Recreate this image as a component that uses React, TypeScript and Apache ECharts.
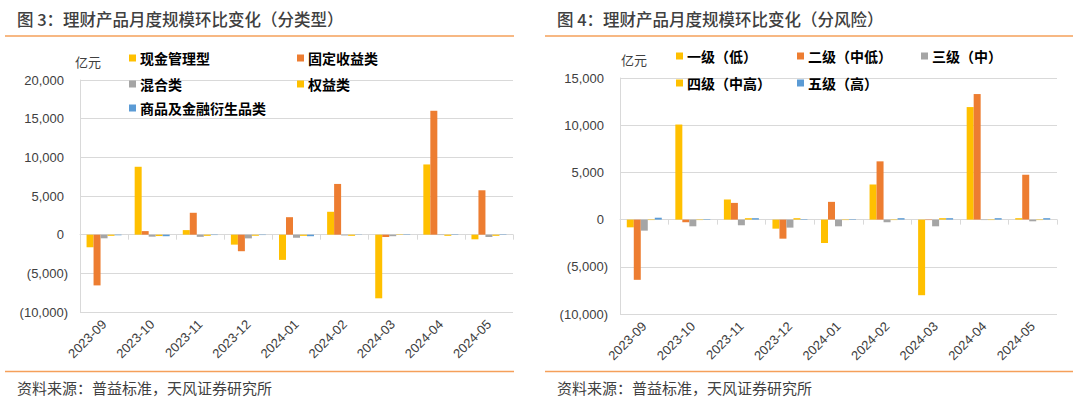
import React, { useEffect, useRef } from 'react';
import * as echarts from 'echarts';

const months = ['2023-09', '2023-10', '2023-11', '2023-12', '2024-01', '2024-02', '2024-03', '2024-04', '2024-05'];

// Left chart (by type), 亿元
const typeNames = ['现金管理型', '固定收益类', '混合类', '权益类', '商品及金融衍生品类'];
const cashMgmt = [-1630, 8780, 590, -1290, -3260, 2960, -8230, 9080, -600];
const fixedIncome = [-6560, 460, 2830, -2140, 2260, 6560, -300, 16020, 5740];
const mixed = [-470, -260, -280, -480, -400, -100, -200, -50, -300];
const equity = [-150, -180, -150, -150, -150, -150, 50, -150, -150];
const commodity = [-80, -200, -50, -50, -200, 30, 50, 50, 50];

// Right chart (by risk), 亿元
const riskNames = ['一级（低）', '二级（中低）', '三级（中）', '四级（中高）', '五级（高）'];
const risk1 = [-820, 10070, 2130, -960, -2480, 3720, -8010, 11920, 150];
const risk2 = [-6380, -280, 1770, -2020, 1880, 6170, -50, 13300, 4750];
const risk3 = [-1170, -710, -600, -850, -710, -280, -710, -50, -180];
const risk4 = [-50, -50, 150, 150, -50, -50, 150, -50, -50];
const risk5 = [200, 50, 150, 50, 50, 150, 150, 150, 150];

const leftTicks = { min: -10000, max: 20000, interval: 5000 };
const rightTicks = { min: -10000, max: 15000, interval: 5000 };

const colors = ['#FFC000', '#ED7D31', '#A5A5A5', '#FFC000', '#5B9BD5'];

const NUM_FONT = "'Liberation Sans', Arial, 'Noto Sans CJK SC', sans-serif";
const CJK_FONT = "'Noto Sans CJK SC', 'Liberation Sans', sans-serif";
const LABEL_COLOR = '#404040';
const GRID_COLOR = '#D9D9D9';
const ORANGE = '#F5A05A';

const fmt = (v: number) => {
  const a = Math.abs(v).toLocaleString('en-US');
  return v < 0 ? `(${a})` : `{p|${a}}`;
};

function App() {
  const ref = useRef<HTMLDivElement>(null);

  useEffect(() => {
    if (!ref.current) return;
    const chart = echarts.init(ref.current, undefined, { renderer: 'svg' });

    const grids = [
      { left: 80, top: 80, width: 433, height: 232 },
      { left: 620, top: 78, width: 437, height: 236 },
    ];

    const yAxis = [leftTicks, rightTicks].map((t, i) => ({
      type: 'value',
      gridIndex: i,
      min: t.min,
      max: t.max,
      interval: t.interval,
      axisLine: { show: true, lineStyle: { color: GRID_COLOR, width: 1 } },
      axisTick: { show: false },
      splitLine: { show: true, lineStyle: { color: GRID_COLOR, width: 1 } },
      axisLabel: {
        formatter: fmt,
        fontSize: 13,
        fontFamily: NUM_FONT,
        color: LABEL_COLOR,
        margin: 12,
        rich: { p: { padding: [0, 4, 0, 0], fontSize: 13, fontFamily: NUM_FONT, color: LABEL_COLOR } },
      },
    }));

    const xAxis: any[] = [];
    [0, 1].forEach((g) => {
      xAxis.push({
        type: 'category',
        gridIndex: g,
        data: months,
        position: 'bottom',
        axisLine: { show: false, onZero: false },
        axisTick: { show: false },
        splitLine: { show: false },
        axisLabel: {
          interval: 0,
          rotate: 45,
          fontSize: 13,
          fontFamily: NUM_FONT,
          color: LABEL_COLOR,
          margin: 10,
        },
      });
      xAxis.push({
        type: 'category',
        gridIndex: g,
        data: months,
        position: 'bottom',
        axisLine: { show: true, onZero: true, lineStyle: { color: GRID_COLOR, width: 1 } },
        axisTick: { show: true, interval: 0, length: 5, lineStyle: { color: GRID_COLOR } },
        axisLabel: { show: false },
        splitLine: { show: false },
      });
    });

    const leftData = [cashMgmt, fixedIncome, mixed, equity, commodity];
    const rightData = [risk1, risk2, risk3, risk4, risk5];

    const mk = (names: string[], data: number[][], g: number) =>
      names.map((n, i) => ({
        name: n,
        type: 'bar',
        xAxisIndex: g * 2,
        yAxisIndex: g,
        data: data[i],
        barWidth: 7,
        barGap: '0%',
        itemStyle: { color: colors[i] },
        z: 3,
      }));

    const series = [...mk(typeNames, leftData, 0), ...mk(riskNames, rightData, 1)];

    const legendItems = [
      { name: typeNames[0], x: 129, y: 61 },
      { name: typeNames[1], x: 297, y: 61 },
      { name: typeNames[2], x: 129, y: 87 },
      { name: typeNames[3], x: 297, y: 87 },
      { name: typeNames[4], x: 129, y: 111 },
      { name: riskNames[0], x: 676, y: 59 },
      { name: riskNames[1], x: 797, y: 59 },
      { name: riskNames[2], x: 921, y: 59 },
      { name: riskNames[3], x: 676, y: 86 },
      { name: riskNames[4], x: 797, y: 86 },
    ];

    const legend = legendItems.map((it) => ({
      data: [it.name],
      left: it.x,
      top: it.y - 10,
      padding: 0,
      itemWidth: 7,
      itemHeight: 7,
      icon: 'rect',
      selectedMode: false,
      textStyle: { fontSize: 14, fontWeight: 'bold', color: '#000', fontFamily: CJK_FONT, padding: [0, 0, 0, -1] },
    }));

    const text = (t: string, x: number, y: number, size: number, color: string, weight = 'normal') => ({
      type: 'text',
      x,
      y,
      silent: true,
      style: {
        text: t,
        fontSize: size,
        fontFamily: CJK_FONT,
        fontWeight: weight,
        fill: color,
        verticalAlign: 'middle',
        textVerticalAlign: 'middle',
      },
    });
    const hline = (x1: number, x2: number, y: number) => ({
      type: 'line',
      silent: true,
      shape: { x1, y1: y, x2, y2: y },
      style: { stroke: ORANGE, lineWidth: 1.5 },
    });

    const graphic = [
      text('图 3：理财产品月度规模环比变化（分类型）', 17, 19, 16.5, '#404040', '500'),
      text('图 4：理财产品月度规模环比变化（分风险）', 557, 19, 16.5, '#404040', '500'),
      hline(5, 514, 36),
      hline(545, 1073, 36),
      text('亿元', 75, 61, 13, LABEL_COLOR),
      text('亿元', 621, 59, 13, LABEL_COLOR),
      hline(5, 514, 371.5),
      hline(545, 1073, 371.5),
      text('资料来源：普益标准，天风证券研究所', 17, 387, 15, '#404040'),
      text('资料来源：普益标准，天风证券研究所', 557, 387, 15, '#404040'),
    ];

    chart.setOption({
      animation: false,
      backgroundColor: '#ffffff',
      grid: grids,
      xAxis,
      yAxis,
      legend,
      series,
      graphic,
    } as any);

    return () => chart.dispose();
  }, []);

  return (
    <div
      ref={ref}
      style={{ position: 'absolute', left: 0, top: 0, width: 1080, height: 399, background: '#fff' }}
    />
  );
}

export default App;
